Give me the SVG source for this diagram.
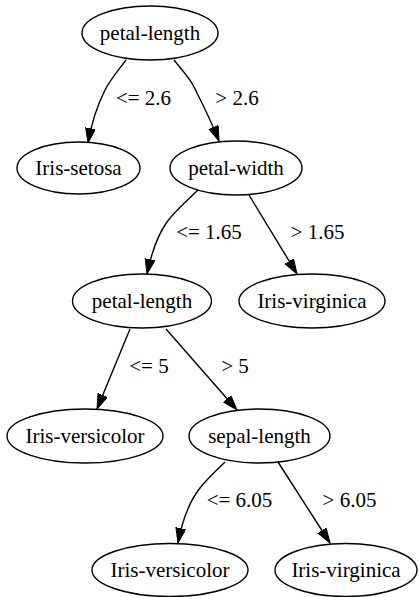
<svg xmlns="http://www.w3.org/2000/svg" width="419" height="597" viewBox="0 0 419 597">
<style>
.n ellipse{fill:#fff;stroke:#000;stroke-width:1.4}
text{font-family:"Liberation Serif","Times New Roman",serif;font-size:21px;fill:#000;text-anchor:middle}
.e path{fill:none;stroke:#000;stroke-width:1.4;marker-end:url(#ah)}
</style>
<defs>
<marker id="ah" markerUnits="userSpaceOnUse" markerWidth="16" markerHeight="12" refX="15" refY="5" orient="auto">
<path d="M0,0 L15,5 L0,10 Z" fill="#000" stroke="#000" stroke-width="1"/>
</marker>
</defs>
<rect width="419" height="597" fill="#fff"/>
<g id="connectors" class="e">
<path d="M126,60 C117,72 110,80 105,90 C98,104 92,120 88,143"/>
<path d="M174,60 C181,69 188,76 193,85 C200,99 210,118 219,141"/>
<path d="M198,190 C188,200 175,211 167,222 C157,236 151,255 147,274"/>
<path d="M249,195 L297,274"/>
<path d="M130,329 L97,409"/>
<path d="M166,329 L237,410"/>
<path d="M225,462 C217,470 207,479 200,488 C188,503 182,522 178,543"/>
<path d="M278,462 L330,543"/>
<text x="143.5" y="105">&lt;= 2.6</text>
<text x="237" y="105">&gt; 2.6</text>
<text x="209" y="239">&lt;= 1.65</text>
<text x="317.5" y="239">&gt; 1.65</text>
<text x="149" y="373">&lt;= 5</text>
<text x="235" y="373">&gt; 5</text>
<text x="239.5" y="507">&lt;= 6.05</text>
<text x="349.5" y="507">&gt; 6.05</text>
</g>
<g id="n_root" class="n"><ellipse cx="150" cy="33" rx="68" ry="27"/><text x="150" y="40">petal-length</text></g>
<g id="n_setosa" class="n"><ellipse cx="78.5" cy="168" rx="61.5" ry="26"/><text x="78.5" y="175">Iris-setosa</text></g>
<g id="n_pw" class="n"><ellipse cx="236" cy="168" rx="66" ry="27"/><text x="236" y="175">petal-width</text></g>
<g id="n_pl2" class="n"><ellipse cx="142" cy="301" rx="69.5" ry="27"/><text x="142" y="308">petal-length</text></g>
<g id="n_virg1" class="n"><ellipse cx="312" cy="301" rx="73" ry="27"/><text x="312" y="308">Iris-virginica</text></g>
<g id="n_vers1" class="n"><ellipse cx="85" cy="436" rx="78" ry="27"/><text x="85" y="443">Iris-versicolor</text></g>
<g id="n_sl" class="n"><ellipse cx="259.5" cy="436" rx="70.5" ry="27"/><text x="259.5" y="443">sepal-length</text></g>
<g id="n_vers2" class="n"><ellipse cx="170" cy="570" rx="78" ry="26.5"/><text x="170" y="577">Iris-versicolor</text></g>
<g id="n_virg2" class="n"><ellipse cx="346" cy="570" rx="71" ry="26.5"/><text x="346" y="577">Iris-virginica</text></g>
</svg>
